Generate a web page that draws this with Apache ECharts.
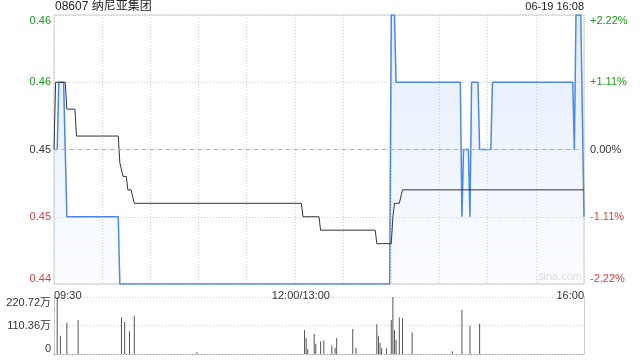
<!DOCTYPE html>
<html><head><meta charset="utf-8">
<script src="https://cdn.jsdelivr.net/npm/echarts@6/dist/echarts.min.js"></script>
<style>html,body{margin:0;padding:0;background:#fff}#c{width:640px;height:360px}</style>
</head><body><div id="c"></div>
<script>
const titleText = '08607 纳尼亚集团';
const stampText = '06-19 16:08';
const prevClose = 0.45;
const xTickLabels = {0: '09:30', 150: '12:00/13:00', 330: '16:00'};
const leftTickLabels = ['0.44', '0.45', '0.45', '0.46', '0.46'];
const rightTickLabels = ['-2.22%', '-1.11%', '0.00%', '+1.11%', '+2.22%'];
const volTickLabels = ['0', '110.36万', '220.72万'];

// minute index from 09:30 (lunch removed) and price
const priceT = [0, 2, 3, 6, 8, 40, 41, 209, 210, 212, 213, 253, 254, 255, 258, 259, 260, 264, 265, 272, 273, 323, 324, 325, 328, 330];
const priceV = [0.45, 0.45, 0.455, 0.455, 0.445, 0.445, 0.44, 0.44, 0.46, 0.46, 0.455, 0.455, 0.445, 0.45, 0.45, 0.445, 0.455, 0.455, 0.45, 0.45, 0.455, 0.455, 0.45, 0.46, 0.46, 0.445];

const avgT = [0, 1, 7, 8, 13, 14, 40, 41, 42, 43, 45, 46, 48, 50, 154, 155, 165, 166, 200, 201, 210, 211, 212, 215, 217, 330];
const avgV = [0.45, 0.455, 0.455, 0.453, 0.453, 0.451, 0.451, 0.449, 0.449, 0.448, 0.448, 0.447, 0.447, 0.446, 0.446, 0.445, 0.445, 0.444, 0.444, 0.443, 0.443, 0.445, 0.446, 0.446, 0.447, 0.447];

// volume (万)
const volT = [2, 4, 8, 15, 42, 44, 47, 50, 89, 156, 157, 158, 162, 163, 166, 168, 173, 175, 176, 186, 188, 201, 202, 203, 204, 207, 210, 211, 212, 213, 215, 217, 223, 248, 254, 259, 265];
const volV = [220.72, 71, 121, 132, 141, 124, 88, 148, 7, 93, 62, 18, 77, 40, 49, 51, 33, 24, 62, 97, 24, 115, 71, 44, 22, 22, 132, 220.72, 93, 55, 141, 137, 84, 11, 170, 109, 117];

const GREEN = '#1a9e1a', RED = '#e83a3a', TXT = '#333';
const FONT = "'Liberation Sans', Arial, 'Noto Sans CJK SC', sans-serif";
const tickColor = i => i < 2 ? RED : (i === 2 ? TXT : GREEN);
const pIdx = v => Math.round((v - 0.44) / 0.005);

const chart = echarts.init(document.getElementById('c'), null, {renderer: 'canvas'});
chart.setOption({
  animation: false,
  textStyle: {fontFamily: FONT},
  grid: [
    {left: 54, top: 15, width: 530, height: 269, show: true, borderColor: '#ccc', borderWidth: 1, backgroundColor: 'transparent'},
    {left: 54, top: 297, width: 530, height: 57}
  ],
  xAxis: [
    {type: 'value', gridIndex: 0, min: 0, max: 330, interval: 30,
     axisLine: {show: false}, axisTick: {show: false},
     splitLine: {show: true, lineStyle: {type: [1, 2], color: '#d0d0d0'}},
     axisLabel: {formatter: v => v === 150 ? '{m|' + xTickLabels[v] + '}' : (xTickLabels[v] || ''),
                 rich: {m: {padding: [0, 0, 0, 12], fontSize: 11, color: TXT, fontFamily: FONT}},
                 color: TXT, fontSize: 11, margin: 6, fontFamily: FONT,
                 alignMinLabel: 'left', alignMaxLabel: 'right', showMinLabel: true, showMaxLabel: true, hideOverlap: false}},
    {type: 'value', gridIndex: 1, min: 0, max: 330, interval: 30,
     axisLine: {show: true, lineStyle: {type: [1, 2], color: '#999'}}, axisTick: {show: false},
     splitLine: {show: false}, axisLabel: {show: false}}
  ],
  yAxis: [
    {type: 'value', gridIndex: 0, min: 0.44, max: 0.46, interval: 0.005, position: 'left',
     axisLine: {show: false}, axisTick: {show: false},
     splitLine: {show: true, lineStyle: {type: [1, 2], color: '#d0d0d0'}},
     axisLabel: {formatter: v => leftTickLabels[pIdx(v)], color: v => tickColor(pIdx(v)), fontSize: 11, margin: 3,
                 fontFamily: FONT, verticalAlignMinLabel: 'bottom', verticalAlignMaxLabel: 'top', showMinLabel: true, showMaxLabel: true}},
    {type: 'value', gridIndex: 0, min: 0.44, max: 0.46, interval: 0.005, position: 'right',
     axisLine: {show: false}, axisTick: {show: false}, splitLine: {show: false},
     axisLabel: {formatter: v => rightTickLabels[pIdx(v)], color: v => tickColor(pIdx(v)), fontSize: 11, margin: 6,
                 fontFamily: FONT, verticalAlignMinLabel: 'bottom', verticalAlignMaxLabel: 'top', showMinLabel: true, showMaxLabel: true}},
    {type: 'value', gridIndex: 1, min: 0, max: 220.72, interval: 110.36, position: 'left',
     axisLine: {show: true, lineStyle: {color: '#ccc'}}, axisTick: {show: false},
     splitLine: {show: true, lineStyle: {type: [1, 2], color: '#ccc'}},
     axisLabel: {formatter: v => volTickLabels[Math.round(v / 110.36)], color: TXT, fontSize: 11, margin: 3,
                 fontFamily: FONT, verticalAlignMinLabel: 'bottom', verticalAlignMaxLabel: 'top', showMinLabel: true, showMaxLabel: true}},
    {type: 'value', gridIndex: 1, min: 0, max: 220.72, interval: 110.36, position: 'right',
     axisLine: {show: true, lineStyle: {color: '#ccc'}}, axisTick: {show: false},
     splitLine: {show: false}, axisLabel: {show: false}}
  ],
  series: [
    {type: 'line', xAxisIndex: 0, yAxisIndex: 0, symbol: 'none', z: 3,
     data: priceT.map((t, i) => [t, priceV[i]]),
     lineStyle: {color: '#4a89e8', width: 1.5},
     areaStyle: {origin: 'start', color: new echarts.graphic.LinearGradient(0, 0, 0, 1, [
       {offset: 0, color: 'rgba(74,137,232,0.22)'}, {offset: 1, color: 'rgba(74,137,232,0.03)'}])},
     markLine: {symbol: 'none', silent: true, label: {show: false},
                lineStyle: {type: [4, 4], color: '#f09a66', width: 1, opacity: 1},
                emphasis: {disabled: true},
                data: [{yAxis: prevClose}]}},
    {type: 'line', xAxisIndex: 0, yAxisIndex: 0, symbol: 'none', z: 4,
     data: avgT.map((t, i) => [t, avgV[i]]),
     lineStyle: {color: '#333', width: 1}},
    {type: 'bar', xAxisIndex: 1, yAxisIndex: 2, barWidth: 1,
     itemStyle: {color: '#555'},
     data: volT.map((t, i) => [t, volV[i]])}
  ],
  graphic: [
    {type: 'text', left: 55, top: 1, style: {text: titleText, fill: '#222', font: '12px ' + FONT}},
    {type: 'text', right: 56, top: 1, style: {text: stampText, fill: '#222', font: '11px ' + FONT}},
    {type: 'text', right: 58, top: 271, style: {text: 'sina.com', fill: '#ddd', font: '11px ' + FONT}}
  ]
});
</script></body></html>
